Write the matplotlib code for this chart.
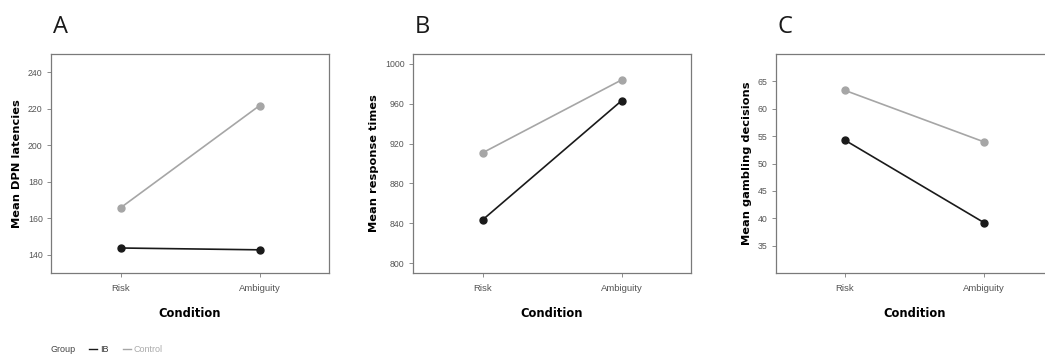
import numpy as np
import matplotlib
matplotlib.use('Agg')
import matplotlib.pyplot as plt
from matplotlib.lines import Line2D

# datos
conditions = ['Risk', 'Ambiguity']
groups = ['IB', 'Control']

dpn_ib = [143.7, 142.7]
dpn_control = [165.7, 221.7]

rt_ib = [843.3, 963.0]
rt_control = [910.7, 983.9]

gamb_ib = [54.25, 39.2]
gamb_control = [63.35, 53.95]

panels = [
    ('A', 'Mean DPN latencies', dpn_ib, dpn_control, (130, 250), [140, 160, 180, 200, 220, 240]),
    ('B', 'Mean response times', rt_ib, rt_control, (790, 1010), [800, 840, 880, 920, 960, 1000]),
    ('C', 'Mean gambling decisions', gamb_ib, gamb_control, (30, 70), [35, 40, 45, 50, 55, 60, 65]),
]

W, H = 1045, 354
lefts = [51, 413, 775.5]
ax_w, ax_h = 278, 219
ax_bottom = 354 - 273

col_ib = '#1a1a1a'
col_ctrl = '#a6a6a6'
spine_col = '#7a7a7a'
tick_col = '#555555'

fig = plt.figure(figsize=(W / 100, H / 100), dpi=100)

for (letter, ylab, ib, ctrl, ylim, yticks), left in zip(panels, lefts):
    ax = fig.add_axes([left / W, ax_bottom / H, ax_w / W, ax_h / H])
    x = np.arange(len(conditions))
    ax.plot(x, ctrl, '-o', color=col_ctrl, lw=1.2, ms=5, zorder=2)
    ax.plot(x, ib, '-o', color=col_ib, lw=1.2, ms=5, zorder=3)
    ax.set_xlim(-0.5, 1.5)
    ax.set_ylim(*ylim)
    ax.set_xticks(x)
    ax.set_xticklabels(conditions, family='Liberation Sans', fontsize=6.8, color=tick_col)
    ax.set_yticks(yticks)
    ax.set_yticklabels([str(t) for t in yticks], family='Liberation Sans', fontsize=6.3, color=tick_col)
    ax.tick_params(axis='both', direction='out', length=3, width=0.6, color=spine_col, pad=3)
    ax.tick_params(axis='x', pad=5)
    for s in ax.spines.values():
        s.set_color(spine_col)
        s.set_linewidth(0.9)
    ax.set_xlabel('Condition', fontsize=8.3, fontweight='bold', family='DejaVu Sans', labelpad=10)
    ax.set_ylabel(ylab, fontsize=8.2, fontweight='bold', family='DejaVu Sans', labelpad=4)
    fig.text((left + 2) / W, 1 - 33 / H, letter, fontsize=17, family='Open Sans', color='#1a1a1a')

# leyenda
fig.text(51 / W, 1 - 349 / H, 'Group', fontsize=6.5, family='Liberation Sans', color='#444444', va='center')
fig.add_artist(Line2D([89 / W, 97 / W], [1 - 349 / H] * 2, color=col_ib, lw=1.0))
fig.text(100 / W, 1 - 349 / H, 'IB', fontsize=6.5, family='Liberation Sans', color='#333333', va='center')
fig.add_artist(Line2D([123 / W, 131 / W], [1 - 349 / H] * 2, color=col_ctrl, lw=1.0))
fig.text(134 / W, 1 - 349 / H, 'Control', fontsize=6.5, family='Liberation Sans', color='#aaaaaa', va='center')

fig.savefig('out.png', dpi=100)
